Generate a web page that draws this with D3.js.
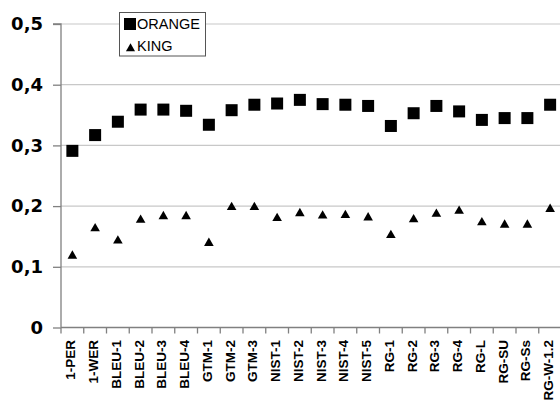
<!DOCTYPE html>
<html>
<head>
<meta charset="utf-8">
<script src="https://cdn.jsdelivr.net/npm/d3@7"></script>
<style>
html,body{margin:0;padding:0;background:#fff;}
svg{display:block;}
</style>
</head>
<body>
<svg id="chart" width="560" height="403"></svg>
<script>
const categories = ["1-PER","1-WER","BLEU-1","BLEU-2","BLEU-3","BLEU-4","GTM-1","GTM-2","GTM-3","NIST-1","NIST-2","NIST-3","NIST-4","NIST-5","RG-1","RG-2","RG-3","RG-4","RG-L","RG-SU","RG-Ss","RG-W-1.2"];
const orange = [0.291,0.317,0.339,0.359,0.359,0.357,0.334,0.358,0.367,0.369,0.375,0.368,0.367,0.365,0.332,0.353,0.365,0.356,0.342,0.345,0.345,0.367];
const king = [0.118,0.163,0.143,0.177,0.183,0.183,0.139,0.198,0.198,0.180,0.188,0.184,0.185,0.181,0.152,0.178,0.187,0.192,0.173,0.169,0.169,0.195];
const yTicks = [0,0.1,0.2,0.3,0.4,0.5];
const seriesNames = ["ORANGE","KING"];

const svg = d3.select("#chart");
const mLeft = 61, mTop = 24, mBottom = 327.5;
const bandW = 22.75;
const x = d3.scaleBand().domain(categories).range([mLeft, mLeft + bandW*categories.length]).padding(0);
const y = d3.scaleLinear().domain([0,0.5]).range([mBottom, mTop]);
const fmt = d => d === 0 ? "0" : d3.format(".1f")(d).replace(".", ",");

// gridlines
svg.append("g").selectAll("line").data(yTicks.filter(d=>d>0)).join("line")
  .attr("x1", mLeft).attr("x2", 560)
  .attr("y1", d=>y(d)).attr("y2", d=>y(d))
  .attr("stroke", "#c8c8c8").attr("stroke-width", 1.2);

// y axis
const yAxis = d3.axisLeft(y).tickValues(yTicks).tickFormat(fmt).tickSize(8).tickPadding(10);
const gy = svg.append("g").attr("transform", `translate(${mLeft},0)`).call(yAxis);
gy.select(".domain").attr("stroke", "#808080").attr("stroke-width", 1.3).attr("d", `M-8,${mTop}H0V${mBottom}`);
gy.selectAll(".tick line").attr("stroke", "#808080").attr("stroke-width", 1.3);
gy.selectAll(".tick text").attr("fill", "#000")
  .style("font-family", "'DejaVu Sans', Verdana, sans-serif")
  .style("font-weight", "bold").style("font-size", "18px");

// x axis
const gx = svg.append("g").attr("transform", `translate(0,${mBottom})`);
gx.append("line").attr("x1", mLeft).attr("x2", 560).attr("y1", 0).attr("y2", 0)
  .attr("stroke", "#808080").attr("stroke-width", 1.3);
gx.selectAll("line.tk").data(categories).join("line").attr("class","tk")
  .attr("x1", d=>x(d)).attr("x2", d=>x(d)).attr("y1", 0).attr("y2", 6)
  .attr("stroke", "#808080").attr("stroke-width", 1.3);
gx.selectAll("text").data(categories).join("text")
  .attr("transform", d => `translate(${x(d)+x.bandwidth()/2+3},12.5) rotate(-90)`)
  .attr("text-anchor", "end")
  .style("font-family", "'Liberation Sans', Arial, sans-serif")
  .style("font-weight", "bold").style("font-size", "13.5px")
  .attr("fill", "#000")
  .text(d=>d);

// ORANGE squares
const sq = 12;
svg.append("g").selectAll("rect").data(categories).join("rect")
  .attr("x", (d,i)=>x(d)+x.bandwidth()/2 - sq/2)
  .attr("y", (d,i)=>y(orange[i]) - sq/2)
  .attr("width", sq).attr("height", sq).attr("fill", "#000");

// KING triangles
const tri = d3.symbol().type(d3.symbolTriangle).size(40);
svg.append("g").selectAll("path").data(categories).join("path")
  .attr("d", tri)
  .attr("transform", (d,i)=>`translate(${x(d)+x.bandwidth()/2},${y(king[i])})`)
  .attr("fill", "#000");

// legend
const lg = svg.append("g");
lg.append("rect").attr("x", 119.5).attr("y", 12.5).attr("width", 86).attr("height", 43.5)
  .attr("fill", "#fff").attr("stroke", "#555").attr("stroke-width", 1);
lg.append("rect").attr("x", 124).attr("y", 18).attr("width", 12).attr("height", 12).attr("fill", "#000");
lg.append("path").attr("d", d3.symbol().type(d3.symbolTriangle).size(36))
  .attr("transform", "translate(130.5,48.5)").attr("fill", "#000");
lg.selectAll("text").data(seriesNames).join("text")
  .attr("x", 137).attr("y", (d,i)=> i===0 ? 29 : 51)
  .style("font-family", "'Liberation Sans', Arial, sans-serif")
  .style("font-size", "14.5px").attr("fill", "#000")
  .text(d=>d);
</script>
</body>
</html>
